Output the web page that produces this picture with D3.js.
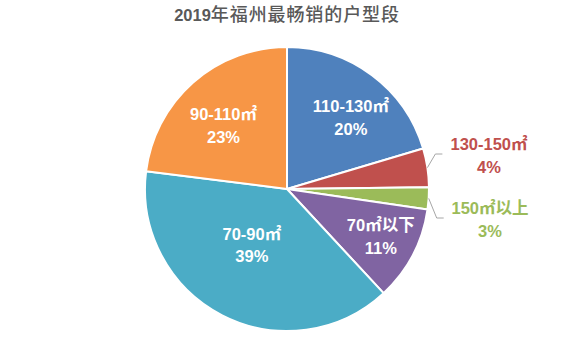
<!DOCTYPE html>
<html><head><meta charset="utf-8">
<script src="https://cdn.jsdelivr.net/npm/d3@7"></script>
<style>body{margin:0;background:#fff}svg{display:block}</style>
</head><body>
<script>
// ---- data ----
const categories = ["110-130㎡", "130-150㎡", "150㎡以上", "70㎡以下", "70-90㎡", "90-110㎡"];
const shares = [20.4, 4.4, 2.5, 10.8, 38.9, 23.0];
const colors = ["#4F81BD", "#C0504D", "#9BBB59", "#8064A2", "#4BACC6", "#F79646"];
const titleNum = "2019";
const titleText = "年福州最畅销的户型段";

// ---- layout (label placement, like Excel best-fit) ----
const W = 579, H = 343, cx = 287, cy = 189, R = 142;
const labelLayout = [
  {inside: true, dAng: 5, r: 96},
  {inside: false, dx: 202, dy: -34},
  {inside: false, dx: 203, dy: 30},
  {inside: true, dAng: -1, r: 105},
  {inside: true, dAng: 5, r: 66},
  {inside: true, dAng: -3.5, r: 90}
];

const svg = d3.select("body").append("svg").attr("width", W).attr("height", H);

// title
const t = svg.append("text").attr("x", cx).attr("y", 21).attr("text-anchor", "middle")
  .attr("fill", "#595959");
t.append("tspan").attr("font-family", "Liberation Sans, Arial, sans-serif")
  .attr("font-weight", "bold").attr("font-size", 16.5).text(titleNum);
t.append("tspan").attr("font-family", "Noto Sans CJK SC, sans-serif")
  .attr("font-weight", "500").attr("font-size", 18).attr("letter-spacing", 0.9).text(titleText);

const data = categories.map((c, i) => ({cat: c, v: shares[i], color: colors[i], lay: labelLayout[i]}));
const pie = d3.pie().value(d => d.v).sort(null);
const arcs = pie(data);
const arc = d3.arc().innerRadius(0).outerRadius(R);

const g = svg.append("g").attr("transform", `translate(${cx},${cy})`);
g.selectAll("path.slice").data(arcs).join("path").attr("class", "slice")
  .attr("d", arc).attr("fill", d => d.data.color)
  .attr("stroke", "#fff").attr("stroke-width", 2).attr("stroke-linejoin", "round");

const total = d3.sum(shares);
const font = "Liberation Sans, Arial, 'Noto Sans CJK SC', sans-serif";

arcs.forEach(a => {
  const mid = (a.startAngle + a.endAngle) / 2;
  const L = a.data.lay;
  const pct = Math.round(a.data.v / total * 100) + "%";
  let x, y, fill;
  if (L.inside) {
    const ang = mid + L.dAng * Math.PI / 180;
    x = Math.sin(ang) * L.r; y = -Math.cos(ang) * L.r;
    fill = "#fff";
  } else {
    x = L.dx; y = L.dy; fill = a.data.color;
    const sx = Math.sin(mid) * R, sy = -Math.cos(mid) * R;
    const ey = L.dy - 1;
    g.append("polyline")
      .attr("points", `${sx},${sy} ${sx + 8},${ey} ${sx + 15},${ey}`)
      .attr("fill", "none").attr("stroke", "#A6A6A6").attr("stroke-width", 1);
  }
  const txt = g.append("text").attr("text-anchor", "middle").attr("font-family", font)
    .attr("font-weight", "bold").attr("font-size", 16.5).attr("fill", fill);
  txt.append("tspan").attr("x", x).attr("y", y - 5).text(a.data.cat);
  txt.append("tspan").attr("x", x).attr("y", y + 17.5).text(pct);
});
</script>
</body></html>
